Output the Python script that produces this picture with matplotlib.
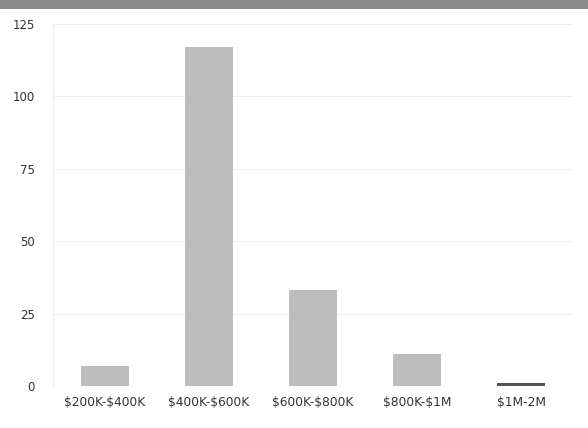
import matplotlib
matplotlib.use("Agg")
import matplotlib.pyplot as plt
from matplotlib.patches import Rectangle

plt.rcParams["text.parse_math"] = False

categories = ["$200K-$400K", "$400K-$600K", "$600K-$800K", "$800K-$1M", "$1M-2M"]
values = [7, 117, 33, 11, 1]
colors = ["#bdbdbd", "#bdbdbd", "#bdbdbd", "#bdbdbd", "#555555"]
yticks = [0, 25, 50, 75, 100, 125]

fig = plt.figure(figsize=(5.88, 4.28), dpi=100)
fig.patches.append(Rectangle((0, 1 - 9/428), 1, 9/428, transform=fig.transFigure,
                             facecolor="#8c8c8c", edgecolor="none"))
ax = fig.add_axes([53/588, 1 - 386/428, 520/588, (386 - 24)/428])
x = range(len(categories))
ax.bar(x, values, width=0.46, color=colors, zorder=3)
ax.set_xlim(-0.5, len(categories) - 0.5)
ax.set_ylim(0, 125)
ax.set_yticks(yticks)
ax.set_xticks(list(x))
ax.set_xticklabels(categories, fontsize=8.8, color="#333333")
ax.tick_params(axis="y", labelsize=8.5, labelcolor="#333333", length=0, pad=13)
ax.tick_params(axis="x", length=0, pad=7)
ax.grid(axis="y", color="#eeeeee", linewidth=0.8, zorder=0)
for s in ["top", "right", "bottom"]:
    ax.spines[s].set_visible(False)
ax.spines["left"].set_color("#eeeeee")
fig.savefig("out.png", dpi=100)
